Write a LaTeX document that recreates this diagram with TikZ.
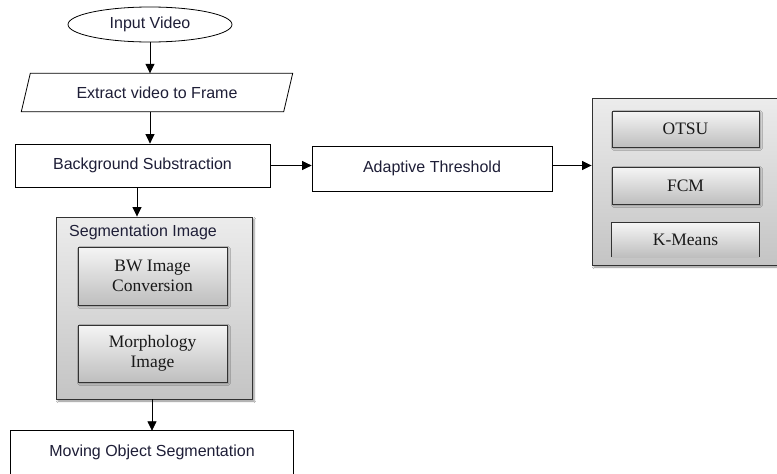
\documentclass[tikz,border=0pt]{standalone}
\usepackage{fontspec}
\setmainfont{Liberation Serif}
\setsansfont{Liberation Sans}
\usetikzlibrary{shapes.geometric,arrows.meta,shadows.blur}
\definecolor{textc}{RGB}{30,30,55}
\definecolor{panTop}{RGB}{236,236,236}
\definecolor{panBot}{RGB}{196,196,196}
\definecolor{boxTop}{RGB}{245,245,245}
\definecolor{boxBot}{RGB}{190,190,190}
\definecolor{edgec}{RGB}{50,50,50}
\tikzset{
  flowtxt/.style={font=\sffamily\fontsize{16}{19}\selectfont, text=textc},
  flowbox/.style={draw=black, line width=0.8pt, fill=white, flowtxt, inner sep=0pt},
  panel/.style={draw=edgec, line width=0.9pt, top color=panTop, bottom color=panBot,
    blur shadow={shadow xshift=2pt, shadow yshift=-2pt, shadow blur steps=5, shadow opacity=45}},
  inbox/.style={draw=edgec, line width=0.9pt, top color=boxTop, bottom color=boxBot,
    font=\rmfamily\fontsize{17.5}{20}\selectfont, text=black!90, align=center,
    blur shadow={shadow xshift=1.5pt, shadow yshift=-1.5pt, shadow blur steps=4, shadow opacity=40}},
  inboxopen/.style={top color=boxTop, bottom color=boxBot,
    font=\rmfamily\fontsize{17.5}{20}\selectfont, text=black!90, align=center},
  arr/.style={line width=0.8pt, -{Triangle[length=9.5pt,width=9pt]}}
}
\begin{document}
\begin{tikzpicture}[x=1pt,y=-1pt]
\useasboundingbox (0,0) rectangle (777,474);
\clip (0,0) rectangle (777,474);
\fill[white] (0,0) rectangle (777,474);

% Input video
\node[ellipse, draw=black, line width=0.8pt, fill=white, flowtxt,
      minimum width=164pt, minimum height=35pt, inner sep=0pt] (iv) at (150,24.5) {Input Video};

% Extract video to frame (parallelogram)
\node[flowtxt, minimum width=262pt, minimum height=38pt, inner sep=0pt] (ef) at (157,92.5) {Extract video to Frame};
\draw[line width=0.8pt] ([xshift=4.5pt]ef.north west) -- ([xshift=4.5pt]ef.north east)
   -- ([xshift=-4.5pt]ef.south east) -- ([xshift=-4.5pt]ef.south west) -- cycle;

% Background substraction
\node[flowbox, minimum width=255pt, minimum height=43pt] (bg) at (142.5,165.5) {Background Substraction};

% Adaptive threshold
\node[flowbox, minimum width=240pt, minimum height=45pt] (at) at (432,168.5) {Adaptive Threshold};

% Right panel
\node[panel, minimum width=210pt, minimum height=167pt] (rp) at (697,181.5) {};
\node[inbox, minimum width=147pt, minimum height=36pt] (otsu) at (685.5,129) {OTSU};
\node[inbox, minimum width=147pt, minimum height=37pt] (fcm) at (685.5,185.5) {FCM};
\node[inboxopen, minimum width=147pt, minimum height=34pt] (km) at (685.5,240) {K-Means};
\draw[draw=edgec, line width=0.9pt] (km.south west) -- (km.north west) -- (km.north east) -- (km.south east);

% Segmentation panel
\node[panel, minimum width=196pt, minimum height=182pt] (seg) at (154,308) {};
\node[flowtxt, anchor=west, inner sep=0pt] (segt) at (69,232) {Segmentation Image};
\node[inbox, minimum width=149pt, minimum height=58pt] (bw) at (152.5,276) {BW Image\\Conversion};
\node[inbox, minimum width=149pt, minimum height=57pt] (mor) at (152.5,353.5) {Morphology\\Image};

% Moving object segmentation
\node[flowtxt, minimum width=282pt, minimum height=43pt, inner sep=0pt] (mo) at (152,452.5) {Moving Object Segmentation};
\draw[line width=0.8pt] ([yshift=-20pt]mo.south west) -- (mo.north west) -- (mo.north east) -- ([yshift=-20pt]mo.south east);

% Connectors
\draw[arr] (iv.south) -- (iv.south |- ef.north);
\draw[arr] (iv.south |- ef.south) -- (iv.south |- bg.north);
\draw[arr] (bg.east) -- (bg.east -| at.west);
\draw[arr] (at.east |- bg.east) -- (bg.east -| rp.west);
\draw[arr] ([xshift=-5.5pt]bg.south) -- ([xshift=-5.5pt]bg.south |- seg.north);
\draw[arr] ([xshift=-2pt]seg.south) -- ([xshift=-2pt]seg.south |- mo.north);
\end{tikzpicture}
\end{document}
